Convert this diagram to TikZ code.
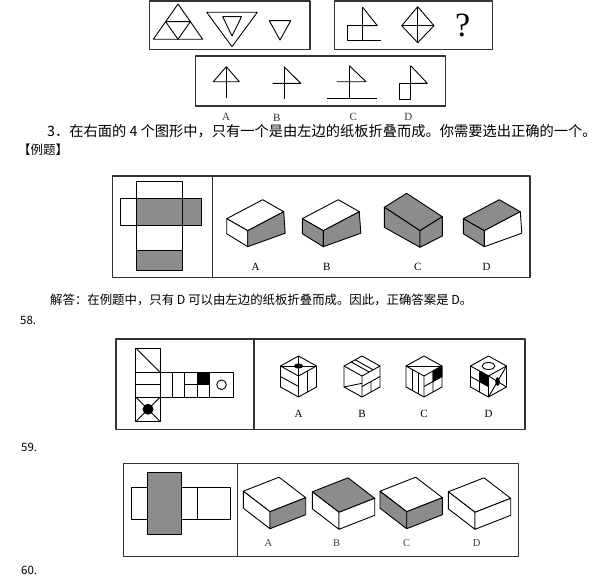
\documentclass[tikz,border=0pt]{standalone}
\usepackage{fontspec}
\newfontfamily\cjk{Noto Sans CJK SC}
\newfontfamily\lab{Liberation Serif}
\definecolor{facegray}{gray}{0.55}

\begin{document}
\begin{tikzpicture}[x=1pt,y=-1pt,line join=round,
 frame/.style={draw=black!80,line width=1.1pt},
 fig/.style={draw=black,line width=0.9pt},
 grayface/.style={fill=facegray},
 lbl/.style={font=\lab\fontsize{10}{10}\selectfont,inner sep=0pt},
 txt/.style={anchor=west,inner sep=0pt}]
 \useasboundingbox (0,0) rectangle (615,578);
 \begin{scope}
  \draw[frame] (149.3,1) rectangle (310,49.3);
  \draw[frame] (334.3,1) rectangle (492.7,49.3);
  \draw[frame] (195.7,56) rectangle (445.7,106);
  \draw[fig] (178,4) -- (202.7,39.3) -- (153.3,39.3) -- cycle;
  \draw[fig] (165.65,21.65) -- (190.35,21.65) -- (178,39.3) -- cycle;
  \draw[fig] (206.7,12.3) -- (257.3,12.3) -- (232,46.7) -- cycle;
  \draw[fig] (222.7,16.7) -- (241.5,16.7) -- (232,36) -- cycle;
  \draw[fig] (269.3,20.7) -- (290.7,20.7) -- (280,40) -- cycle;
  \draw[fig] (347.3,25.7) rectangle (362.7,40);
  \draw[fig] (362.7,40) -- (380.7,40);
  \draw[fig] (362.7,7.3) -- (362.7,40);
  \draw[fig] (362.7,7.3) -- (377.3,25.7) -- (362.7,25.7);
  \draw[fig] (417.7,6.7) -- (434,25.7) -- (417.7,42.7) -- (401.7,25.7) -- cycle;
  \draw[fig] (417.7,6.7) -- (417.7,42.7) (401.7,25.7) -- (434,25.7);
  \draw (462.7,25) node[font=\lab\fontsize{34}{34}\selectfont,inner sep=0pt] (qmark) {?};
  \draw[fig] (226.3,66.7) -- (239.3,81.7) -- (213.3,81.7) -- cycle;
  \draw[fig] (226.3,66.7) -- (226.3,98.3);
  \draw[fig] (284,66.7) -- (284,99.3);
  \draw[fig] (284,66.7) -- (300.7,83.3) -- (272.7,83.3);
  \draw[fig] (349.3,65.7) -- (349.3,98.3);
  \draw[fig] (349.3,65.7) -- (366,81.7) -- (336.7,81.7);
  \draw[fig] (327.3,98.3) -- (377.3,98.3);
  \draw[fig] (410.7,65.7) -- (410.7,99.3);
  \draw[fig] (410.7,65.7) -- (427.3,83.3) -- (410.7,83.3);
  \draw[fig] (399.3,83.3) rectangle (410.7,99.3);
  \draw (226,117) node[lbl,font=\lab\fontsize{11}{11}\selectfont,text=black!80] (topA) {A};
  \draw (276.7,118) node[lbl,font=\lab\fontsize{11}{11}\selectfont,text=black!80] (topB) {B};
  \draw (353.3,117) node[lbl,font=\lab\fontsize{11}{11}\selectfont,text=black!80] (topC) {C};
  \draw (408.3,117) node[lbl,font=\lab\fontsize{11}{11}\selectfont,text=black!80] (topD) {D};
 \end{scope}
 \draw (47,131) node[txt,font=\cjk\fontsize{14.25}{14.25}\selectfont] (intro) {3．在右面的 4 个图形中，只有一个是由左边的纸板折叠而成。你需要选出正确的一个。};
 \draw (18,150) node[txt,font=\cjk\fontsize{12.5}{12.5}\selectfont] (example) {【例题】};
 \begin{scope}
  \draw[frame] (112.3,176) rectangle (530,277.3);
  \draw[frame] (212.3,176) -- (212.3,277.3);
  \fill[facegray] (136,198.3) rectangle (201.3,225);
  \fill[facegray] (136,250) rectangle (182.7,270.7);
  \draw[fig] (136,181) rectangle (182.7,270.7);
  \draw[fig] (120.7,198.3) rectangle (201.3,225);
  \draw[fig] (136,250) -- (182.7,250);
 \end{scope}
 \begin{scope}[shift={(247.7,230.7)}]
  \filldraw[fig,fill=white] (0,0) -- (-21,-12) -- (15,-31) -- (36,-19) -- cycle;
  \filldraw[fig,fill=white] (0,0) -- (-21,-12) -- (-21,3) -- (0,16) -- cycle;
  \filldraw[fig,grayface] (0,0) -- (36,-19) -- (37.5,2.5) -- (0,16) -- cycle;
 \end{scope}
 \begin{scope}[shift={(323.3,230.7)}]
  \filldraw[fig,fill=white] (0,0) -- (-21,-12) -- (15,-31) -- (36,-19) -- cycle;
  \filldraw[fig,grayface] (0,0) -- (-21,-12) -- (-21,3) -- (0,16) -- cycle;
  \filldraw[fig,grayface] (0,0) -- (36,-19) -- (37.5,2.5) -- (0,16) -- cycle;
 \end{scope}
 \begin{scope}[shift={(420,230.7)}]
  \filldraw[fig,grayface] (0,0) -- (-35.7,-23.4) -- (-13.4,-37.4) -- (22.3,-14) -- cycle;
  \filldraw[fig,grayface] (0,0) -- (-35.7,-23.4) -- (-35.7,-3.4) -- (0,16.6) -- cycle;
  \filldraw[fig,grayface] (0,0) -- (22.3,-14) -- (22.3,5.3) -- (0,16.6) -- cycle;
 \end{scope}
 \begin{scope}[shift={(484.3,230.7)}]
  \filldraw[fig,grayface] (0,0) -- (-21,-12) -- (15,-31) -- (36,-19) -- cycle;
  \filldraw[fig,grayface] (0,0) -- (-21,-12) -- (-21,3) -- (0,16) -- cycle;
  \filldraw[fig,fill=white] (0,0) -- (36,-19) -- (37.5,2.5) -- (0,16) -- cycle;
 \end{scope}
 \draw (255.7,267.3) node[lbl,font=\lab\fontsize{11}{11}\selectfont] (exA) {A};
 \draw (326.7,267.3) node[lbl,font=\lab\fontsize{11}{11}\selectfont] (exB) {B};
 \draw (417.7,267.3) node[lbl,font=\lab\fontsize{11}{11}\selectfont] (exC) {C};
 \draw (486.7,267.3) node[lbl,font=\lab\fontsize{11}{11}\selectfont] (exD) {D};
 \draw (50,300) node[txt,font=\cjk\fontsize{12.4}{12.4}\selectfont] (answer) {解答：在例题中，只有 D 可以由左边的纸板折叠而成。因此，正确答案是 D。};
 \draw (20,320) node[txt,font=\cjk\fontsize{11.5}{11.5}\selectfont] (q58) {58.};
 \begin{scope}
  \draw[frame] (116,339) rectangle (525,429.3);
  \draw[frame] (254,339) -- (254,429.3);
  \draw[fig] (135.8,348) rectangle (160.3,421.5);
  \draw[fig] (160.3,372.5) rectangle (233.8,397);
  \draw[fig] (135.8,372.5) -- (160.3,372.5) (135.8,397) -- (160.3,397);
  \draw[fig] (135.8,348) -- (160.3,372.5);
  \draw[fig] (135.8,384.75) -- (160.3,384.75);
  \draw[fig] (135.8,397) -- (160.3,421.5) (160.3,397) -- (135.8,421.5);
  \fill (148.05,409.25) circle (5.5pt);
  \draw[fig] (172.55,372.5) -- (172.55,397) (184.8,372.5) -- (184.8,397);
  \draw[fig] (197.05,372.5) -- (197.05,397) (209.3,372.5) -- (209.3,397);
  \draw[fig] (184.8,384.75) -- (197.05,384.75);
  \filldraw[fig,fill=black] (197.05,372.5) rectangle (209.3,384.75);
  \draw[fig] (221.55,384.75) circle (4.8pt);
 \end{scope}
 \begin{scope}[shift={(298.5,376)}]
  \filldraw[fig,fill=white] (-18,-10) -- (0,-20) -- (18,-10) -- (18,11) -- (0,21) -- (-18,11) -- cycle;
  \draw[fig] (-18,-10) -- (0,0) -- (18,-10) (0,0) -- (0,21);
  \draw[fig] (-18,-10) -- (18,-10) (0,-20) -- (0,0);
  \fill (0,-10) ellipse [x radius=4.5pt,y radius=2.6pt];
  \draw[fig] (-18,0.5) -- (0,10.5);
  \draw[fig] (9,-5) -- (9,16);
 \end{scope}
 \begin{scope}[shift={(362,376)}]
  \filldraw[fig,fill=white] (-18,-10) -- (0,-20) -- (18,-10) -- (18,11) -- (0,21) -- (-18,11) -- cycle;
  \draw[fig] (-18,-10) -- (0,0) -- (18,-10) (0,0) -- (0,21);
  \draw[fig] (-10.8,-14) -- (7.2,-4) (-6.84,-16.2) -- (11.16,-6.2);
  \draw[fig] (-18,11) -- (0,7.3);
  \draw[fig] (0,10.5) -- (18,0.5) (9,5.5) -- (9,16);
 \end{scope}
 \begin{scope}[shift={(424,376)}]
  \filldraw[fig,fill=white] (-18,-10) -- (0,-20) -- (18,-10) -- (18,11) -- (0,21) -- (-18,11) -- cycle;
  \draw[fig] (-18,-10) -- (0,0) -- (18,-10) (0,0) -- (0,21);
  \draw[fig] (-18,-10) -- (18,-10);
  \draw[fig] (-11.16,-6.2) -- (-11.16,14.8) (-5.94,-3.3) -- (-5.94,17.7);
  \filldraw[fig,fill=black] (9,-5) -- (18,-10) -- (18,0.5) -- (9,5.5) -- cycle;
  \draw[fig] (9,-5) -- (9,16) (0,10.5) -- (18,0.5);
 \end{scope}
 \begin{scope}[shift={(488.5,376)}]
  \filldraw[fig,fill=white] (-18,-10) -- (0,-20) -- (18,-10) -- (18,11) -- (0,21) -- (-18,11) -- cycle;
  \draw[fig] (-18,-10) -- (0,0) -- (18,-10) (0,0) -- (0,21);
  \draw[fig] (0,-10) ellipse [x radius=6.5pt,y radius=3.5pt];
  \filldraw[fig,fill=black] (-9,-5) -- (0,0) -- (0,10.5) -- (-9,5.5) -- cycle;
  \draw[fig] (-9,-5) -- (-9,16) (-18,0.5) -- (0,10.5);
  \draw[fig] (0,0) -- (18,11) (0,21) -- (18,-10);
  \fill (9,5.5) ellipse [x radius=2.3pt,y radius=4.3pt];
 \end{scope}
 \draw (298.5,414) node[lbl,font=\lab\fontsize{11}{11}\selectfont] (cubeA) {A};
 \draw (362,414) node[lbl,font=\lab\fontsize{11}{11}\selectfont] (cubeB) {B};
 \draw (424,414) node[lbl,font=\lab\fontsize{11}{11}\selectfont] (cubeC) {C};
 \draw (488.5,414) node[lbl,font=\lab\fontsize{11}{11}\selectfont] (cubeD) {D};
 \draw (21,447) node[txt,font=\cjk\fontsize{11.5}{11.5}\selectfont] (q59) {59.};
 \begin{scope}
  \draw[frame] (123.3,463.3) rectangle (518.3,556.7);
  \draw[frame] (237.3,463.3) -- (237.3,556.7);
  \draw[fig] (131.7,487.7) rectangle (230.7,519);
  \draw[fig] (197,487.7) -- (197,519);
  \filldraw[fig,grayface] (147.3,472.3) rectangle (181,534.3);
 \end{scope}
 \begin{scope}[shift={(270,511.7)}]
  \filldraw[fig,fill=white] (0,0) -- (-26.7,-20.5) -- (9,-34.5) -- (35.7,-14) -- cycle;
  \filldraw[fig,fill=white] (0,0) -- (-26.7,-20.5) -- (-26.7,-3.5) -- (0,17) -- cycle;
  \filldraw[fig,grayface] (0,0) -- (35.7,-14) -- (35.7,3) -- (0,17) -- cycle;
 \end{scope}
 \begin{scope}[shift={(339,512.3)}]
  \filldraw[fig,grayface] (0,0) -- (-26.7,-20.5) -- (9,-34.5) -- (35.7,-14) -- cycle;
  \filldraw[fig,fill=white] (0,0) -- (-26.7,-20.5) -- (-26.7,-3.5) -- (0,17) -- cycle;
  \filldraw[fig,fill=white] (0,0) -- (35.7,-14) -- (35.7,3) -- (0,17) -- cycle;
 \end{scope}
 \begin{scope}[shift={(406.7,511.7)}]
  \filldraw[fig,fill=white] (0,0) -- (-26.7,-20.5) -- (9,-34.5) -- (35.7,-14) -- cycle;
  \filldraw[fig,grayface] (0,0) -- (-26.7,-20.5) -- (-26.7,-3.5) -- (0,17) -- cycle;
  \filldraw[fig,grayface] (0,0) -- (35.7,-14) -- (35.7,3) -- (0,17) -- cycle;
 \end{scope}
 \begin{scope}[shift={(475,512.3)}]
  \filldraw[fig,fill=white] (0,0) -- (-26.7,-20.5) -- (9,-34.5) -- (35.7,-14) -- cycle;
  \filldraw[fig,fill=white] (0,0) -- (-26.7,-20.5) -- (-26.7,-3.5) -- (0,17) -- cycle;
  \filldraw[fig,fill=white] (0,0) -- (35.7,-14) -- (35.7,3) -- (0,17) -- cycle;
 \end{scope}
 \draw (268.3,543.3) node[lbl,font=\lab\fontsize{10.5}{10.5}\selectfont,text=black!75] (boxA) {A};
 \draw (336.7,543.3) node[lbl,font=\lab\fontsize{10.5}{10.5}\selectfont,text=black!75] (boxB) {B};
 \draw (406.7,543.3) node[lbl,font=\lab\fontsize{10.5}{10.5}\selectfont,text=black!75] (boxC) {C};
 \draw (476.7,543.3) node[lbl,font=\lab\fontsize{10.5}{10.5}\selectfont,text=black!75] (boxD) {D};
 \draw (21,570) node[txt,font=\cjk\fontsize{11.5}{11.5}\selectfont] (q60) {60.};
\end{tikzpicture}
\end{document}
